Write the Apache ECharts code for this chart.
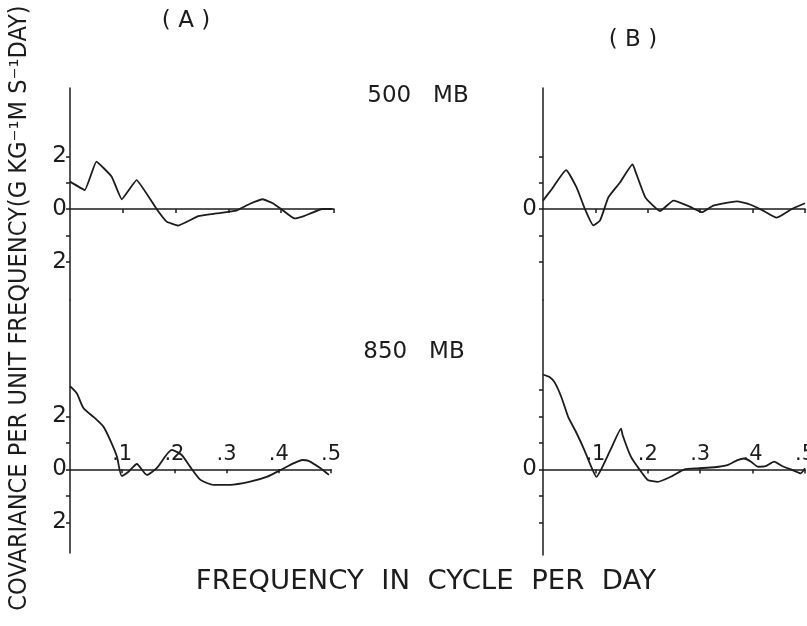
<!DOCTYPE html>
<html>
<head>
<meta charset="utf-8">
<script src="https://cdn.jsdelivr.net/npm/echarts@6/dist/echarts.min.js"></script>
<style>
html,body{margin:0;padding:0;background:#fff;}
#main{width:807px;height:626px;}
</style>
</head>
<body>
<div id="main"></div>
<script>
// ---- data (frequency in cycle per day, covariance per unit frequency) ----
const freqA500 = [0,0.028,0.05,0.079,0.098,0.126,0.164,0.183,0.205,0.243,0.277,0.315,0.34,0.365,0.384,0.4,0.425,0.443,0.478,0.497];
const valA500  = [1.04,0.72,1.8,1.23,0.37,1.1,0,-0.48,-0.63,-0.27,-0.17,-0.06,0.19,0.37,0.22,0,-0.36,-0.27,0,0];

const freqB500 = [0,0.017,0.044,0.064,0.08,0.096,0.109,0.125,0.147,0.171,0.176,0.195,0.21,0.223,0.249,0.28,0.303,0.325,0.37,0.395,0.42,0.446,0.475,0.5];
const valB500  = [0.32,0.76,1.48,0.82,0,-0.62,-0.43,0.45,1.01,1.7,1.45,0.45,0.13,-0.08,0.32,0.09,-0.12,0.13,0.29,0.17,-0.06,-0.33,0,0.22];

const freqA850 = [0,0.013,0.026,0.045,0.064,0.077,0.09,0.099,0.112,0.128,0.147,0.166,0.195,0.214,0.23,0.25,0.275,0.307,0.345,0.378,0.406,0.429,0.445,0.457,0.48,0.496];
const valA850  = [3.14,2.87,2.3,1.98,1.61,1.1,0.47,-0.25,-0.09,0.2,-0.21,0.04,0.73,0.54,0.1,-0.4,-0.59,-0.59,-0.47,-0.28,0,0.23,0.35,0.32,0.04,-0.21];

const freqB850 = [0,0.013,0.022,0.035,0.048,0.063,0.079,0.092,0.102,0.111,0.13,0.149,0.152,0.168,0.184,0.2,0.219,0.244,0.27,0.295,0.327,0.352,0.371,0.384,0.397,0.41,0.425,0.441,0.457,0.473,0.492,0.5];
const valB850  = [3.58,3.48,3.29,2.73,1.98,1.41,0.73,0.1,-0.28,0,0.79,1.54,1.29,0.47,0,-0.4,-0.47,-0.28,0,0.04,0.08,0.16,0.35,0.41,0.29,0.1,0.12,0.29,0.12,0,-0.15,0.04];

const xTicks = [0.1,0.2,0.3,0.4,0.5];
const xTickLabels = ['.1','.2','.3','.4','.5'];
const yTicksTop = [-2,-1,0,1,2];
const yTicksBottomA = [-2,-1,0,1,2];
const yTicksBottomB = [-2,-1,0,1,2,3];
const yLabelsA = [-2,0,2];
const yLabelsB = [0];

const panelTitleA = '( A )';
const panelTitleB = '( B )';
const level500 = '500   MB';
const level850 = '850   MB';
const xName = 'FREQUENCY  IN  CYCLE  PER  DAY';
const yName = 'COVARIANCE PER UNIT FREQUENCY(G KG\u207B\u00B9M S\u207B\u00B9DAY)';

// ---- chart ----
const INK = '#1c1c1c';
const FONT = 'DejaVu Sans';
const pairs = (f, v) => f.map((x, i) => [x, v[i]]);

function xAxisDef(gi) {
  return {
    type: 'value', gridIndex: gi, min: 0, max: 0.5,
    axisLine: { show: true, onZero: true, lineStyle: { color: INK, width: 1.5 } },
    axisTick: { show: true, inside: false, length: 4, customValues: xTicks, lineStyle: { color: INK, width: 1.5 } },
    axisLabel: { show: false },
    splitLine: { show: false }
  };
}
function yAxisDef(gi, min, max, ticks, labels, margin) {
  return {
    type: 'value', gridIndex: gi, min: min, max: max,
    axisLine: { show: true, onZero: false, lineStyle: { color: INK, width: 1.5 } },
    axisTick: { show: true, length: 4, customValues: ticks, lineStyle: { color: INK, width: 1.5 } },
    axisLabel: {
      show: true, customValues: labels, margin: margin,
      formatter: v => String(Math.abs(v)),
      color: INK, fontFamily: FONT, fontSize: 23
    },
    splitLine: { show: false }
  };
}
function lineSeries(i, f, v, sm) {
  return {
    type: 'line', xAxisIndex: i, yAxisIndex: i, data: pairs(f, v),
    showSymbol: false, smooth: sm, animation: false,
    lineStyle: { color: INK, width: 1.8 }
  };
}
// frequency tick labels sitting just above the zero line
function tickLabelSeries(i) {
  return {
    type: 'scatter', xAxisIndex: i, yAxisIndex: i,
    data: xTicks.map((t, k) => ({ value: [t, 0], name: xTickLabels[k] })),
    symbol: 'circle', symbolSize: 2, silent: true, clip: false,
    itemStyle: { color: 'rgba(0,0,0,0)', opacity: 1 },
    label: {
      show: true, position: 'top', distance: 3, offset: [2, 0],
      formatter: p => p.name, opacity: 1, textBorderWidth: 0,
      color: INK, fontFamily: FONT, fontSize: 21
    },
    labelLayout: { hideOverlap: false }
  };
}

const chart = echarts.init(document.getElementById('main'), null, { renderer: 'canvas' });
chart.setOption({
  backgroundColor: '#fff',
  animation: false,
  grid: [
    { left: 70,  top: 88,  width: 264, height: 212 },
    { left: 543, top: 88,  width: 262, height: 212 },
    { left: 70,  top: 300, width: 261, height: 253 },
    { left: 543, top: 300, width: 262, height: 255 }
  ],
  xAxis: [xAxisDef(0), xAxisDef(1), xAxisDef(2), xAxisDef(3)],
  yAxis: [
    yAxisDef(0, -3.46, 4.6, yTicksTop, yLabelsA, 3),
    yAxisDef(1, -3.46, 4.6, yTicksTop, yLabelsB, 6),
    yAxisDef(2, -3.16, 6.39, yTicksBottomA, yLabelsA, 3),
    yAxisDef(3, -3.23, 6.39, yTicksBottomB, yLabelsB, 6)
  ],
  series: [
    lineSeries(0, freqA500, valA500, 0.1),
    lineSeries(1, freqB500, valB500, 0.15),
    lineSeries(2, freqA850, valA850, 0.2),
    lineSeries(3, freqB850, valB850, 0.15),
    tickLabelSeries(2),
    tickLabelSeries(3)
  ],
  graphic: [
    { type: 'text', x: 186, y: 21, style: { text: panelTitleA, fill: INK, font: '23px "DejaVu Sans"', textAlign: 'center', textVerticalAlign: 'middle' } },
    { type: 'text', x: 633, y: 40, style: { text: panelTitleB, fill: INK, font: '23px "DejaVu Sans"', textAlign: 'center', textVerticalAlign: 'middle' } },
    { type: 'text', x: 418, y: 96, style: { text: level500, fill: INK, font: '23px "DejaVu Sans"', textAlign: 'center', textVerticalAlign: 'middle' } },
    { type: 'text', x: 414, y: 352, style: { text: level850, fill: INK, font: '23px "DejaVu Sans"', textAlign: 'center', textVerticalAlign: 'middle' } },
    { type: 'text', x: 426, y: 582, scaleX: 1.06, style: { text: xName, fill: INK, font: '26px "DejaVu Sans"', textAlign: 'center', textVerticalAlign: 'middle' } },
    { type: 'text', x: 20, y: 308, rotation: Math.PI / 2, scaleX: 0.94, style: { text: yName, fill: INK, font: '24px "DejaVu Sans"', textAlign: 'center', textVerticalAlign: 'middle' } }
  ]
});
</script>
</body>
</html>
